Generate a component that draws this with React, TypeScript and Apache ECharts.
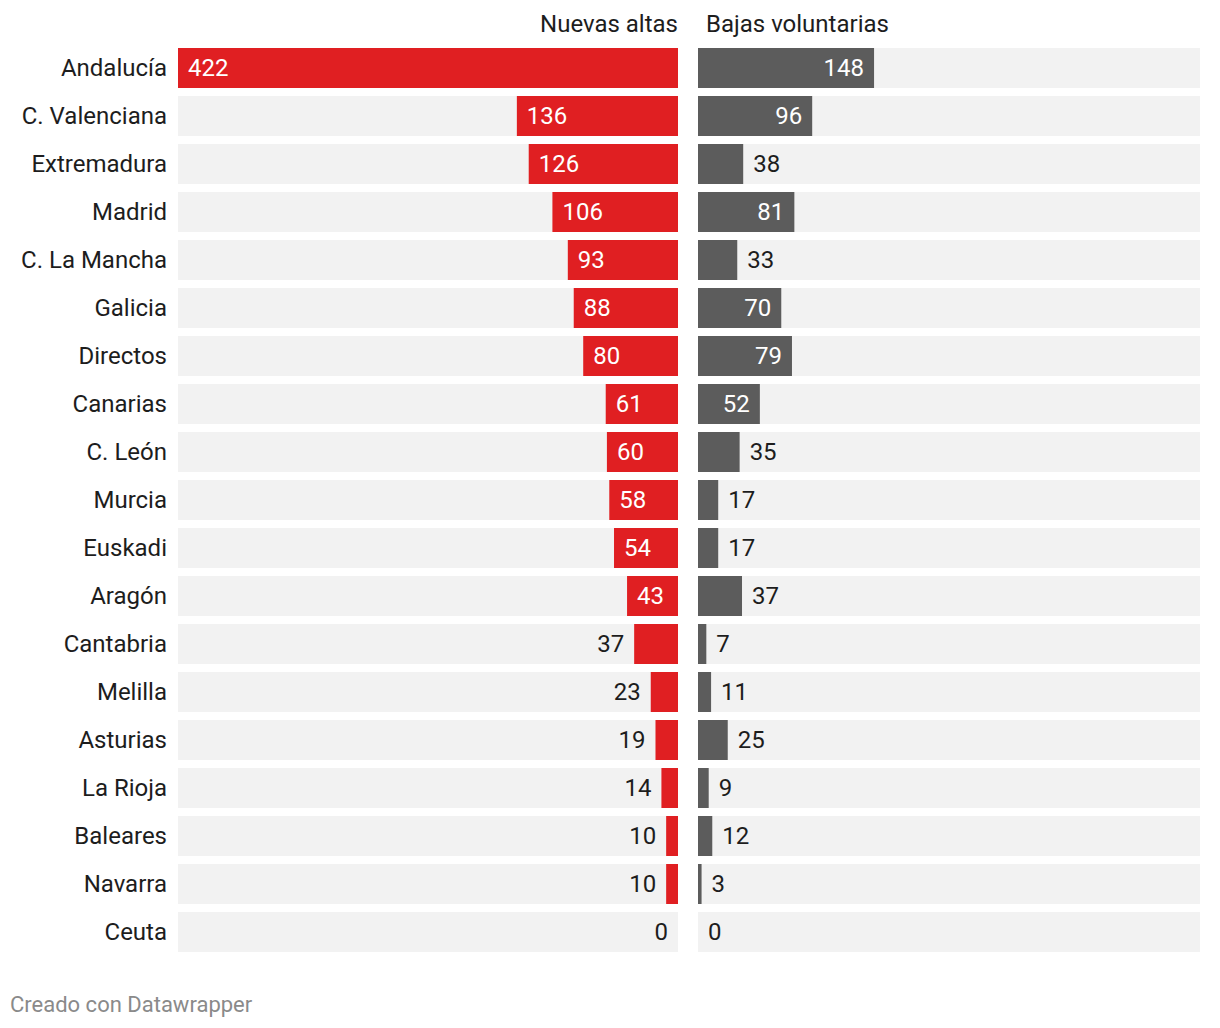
import React, { useEffect, useRef } from "react";
import * as echarts from "echarts";

const regions = [
  "Andalucía", "C. Valenciana", "Extremadura", "Madrid", "C. La Mancha", "Galicia",
  "Directos", "Canarias", "C. León", "Murcia", "Euskadi", "Aragón", "Cantabria",
  "Melilla", "Asturias", "La Rioja", "Baleares", "Navarra", "Ceuta",
];
const altas = [422, 136, 126, 106, 93, 88, 80, 61, 60, 58, 54, 43, 37, 23, 19, 14, 10, 10, 0];
const bajas = [148, 96, 38, 81, 33, 70, 79, 52, 35, 17, 17, 37, 7, 11, 25, 9, 12, 3, 0];
const titles = ["Nuevas altas", "Bajas voluntarias"];
const footer = "Creado con Datawrapper";

const RED = "#e01f22";
const GREY = "#5c5c5c";
const BG = "#f2f2f2";
const TEXT = "#1d1d1d";
const FONT = "Roboto";
const FS = 24;
const MAX = 422;
const INSIDE_MIN = 43;

export default function App() {
  const ref = useRef<HTMLDivElement>(null);
  useEffect(() => {
    if (!ref.current) return;
    const chart = echarts.init(ref.current, null, { renderer: "svg" });
    const leftData = altas.map((v) => ({
      value: v,
      label: v >= INSIDE_MIN
        ? { position: "insideLeft", color: "#ffffff" }
        : { position: "left", color: TEXT },
    }));
    const rightData = bajas.map((v) => ({
      value: v,
      label: v >= INSIDE_MIN
        ? { position: "insideRight", color: "#ffffff" }
        : { position: "right", color: TEXT },
    }));
    const labelBase = { show: true, fontSize: FS, fontFamily: FONT, distance: 10 };
    chart.setOption({
      animation: false,
      textStyle: { fontFamily: FONT },
      grid: [
        { left: 178, top: 44, width: 500, height: 912 },
        { left: 698, top: 44, width: 502, height: 912 },
      ],
      xAxis: [
        { gridIndex: 0, type: "value", min: 0, max: MAX, inverse: true, show: false },
        { gridIndex: 1, type: "value", min: 0, max: MAX, show: false },
      ],
      yAxis: [
        {
          gridIndex: 0, type: "category", data: regions, inverse: true,
          axisLine: { show: false }, axisTick: { show: false }, splitLine: { show: false },
          axisLabel: { fontSize: FS, fontFamily: FONT, color: TEXT, margin: 11 },
        },
        { gridIndex: 1, type: "category", data: regions, inverse: true, show: false },
      ],
      series: [
        {
          type: "bar", xAxisIndex: 0, yAxisIndex: 0, data: leftData, barWidth: 40,
          itemStyle: { color: RED }, showBackground: true, backgroundStyle: { color: BG },
          label: labelBase,
        },
        {
          type: "bar", xAxisIndex: 1, yAxisIndex: 1, data: rightData, barWidth: 40,
          itemStyle: { color: GREY }, showBackground: true, backgroundStyle: { color: BG },
          label: labelBase,
        },
      ],
      graphic: [
        {
          type: "text", x: 678, y: 24,
          style: { text: titles[0], fontSize: FS, fontFamily: FONT, fill: TEXT, align: "right", verticalAlign: "middle" },
        },
        {
          type: "text", x: 706, y: 24,
          style: { text: titles[1], fontSize: FS, fontFamily: FONT, fill: TEXT, align: "left", verticalAlign: "middle" },
        },
        {
          type: "text", x: 10, y: 1004,
          style: { text: footer, fontSize: 22, fontFamily: FONT, fill: "#8a8a8a", align: "left", verticalAlign: "middle" },
        },
      ],
    });
    return () => chart.dispose();
  }, []);
  return (
    <div
      ref={ref}
      style={{ position: "absolute", left: 0, top: 0, width: 1220, height: 1028, background: "#ffffff" }}
    />
  );
}
